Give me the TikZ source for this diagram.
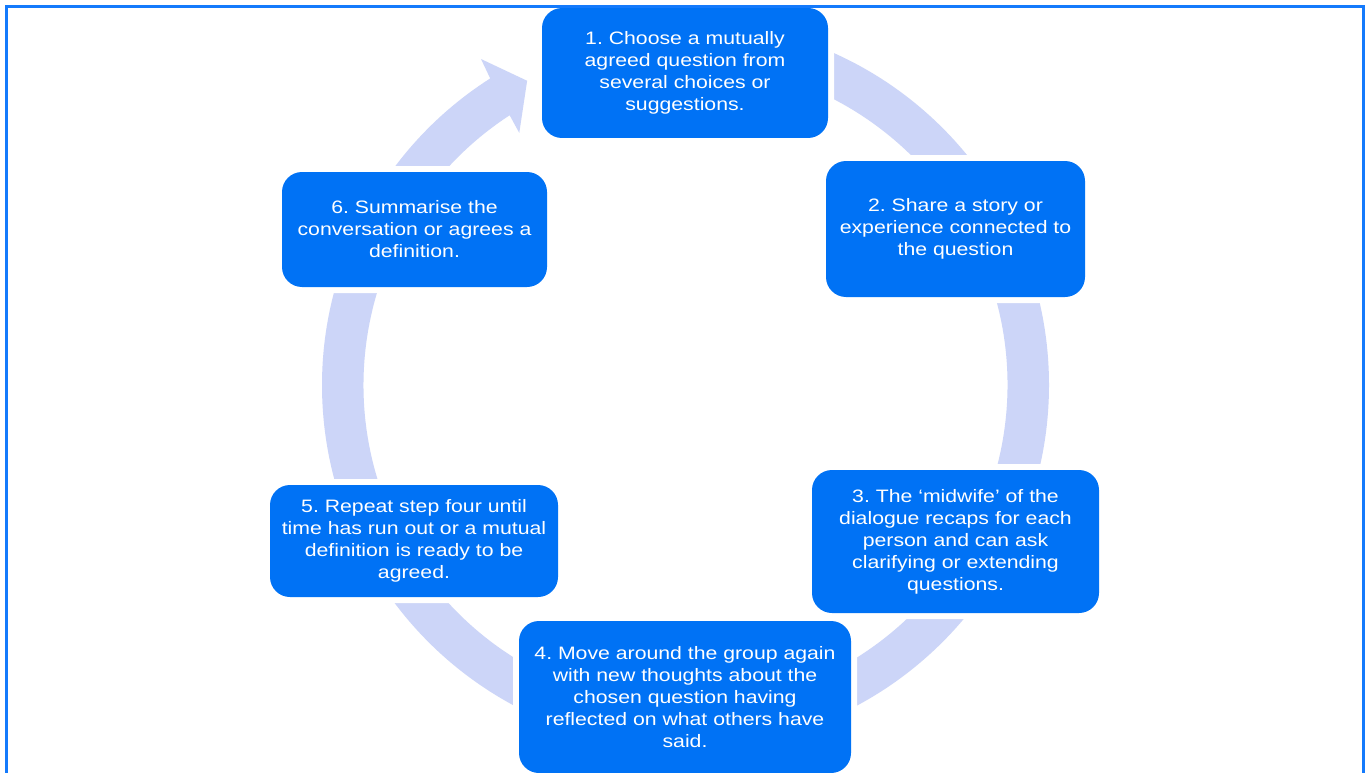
\documentclass[tikz,border=0pt]{standalone}
\usepackage{fontspec}
\setmainfont{Liberation Sans}[FakeStretch=1.18]
\usepackage{tikz}
\frenchspacing

\definecolor{boxblue}{RGB}{0,114,245}
\definecolor{frameblue}{RGB}{20,122,252}
\definecolor{ringlav}{RGB}{204,213,248}

\tikzset{
  stepbox/.style={rounded corners=20pt, fill=boxblue, text=white, align=center,
    font=\fontsize{18}{22}\selectfont, inner sep=0pt,
    preaction={draw=white, line width=12pt}},
  ringarrow/.style={fill=ringlav}
}

\begin{document}
\begin{tikzpicture}[x=1pt, y=1pt]
   \useasboundingbox (0,0) rectangle (1370,-773);
   \clip (0,0) rectangle (1370,-773);
   \fill[white] (0,0) rectangle (1370,-773);

   % ring with one head, clockwise into step 1
   \begin{scope}[shift={(685.5,-385)}]
      \fill[ringarrow] (90:363.5) arc[start angle=90, end angle=-237.5, radius=363.5]
         -- (-237.9:384.8) -- (-242.5:343) -- (-236.6:302) -- (-236.9:322)
         arc[start angle=-236.9, end angle=90, radius=322] -- cycle;
   \end{scope}

   \node[stepbox, minimum width=286pt, minimum height=130pt] (s1) at (685,-73)
      {1. Choose a mutually\\agreed question from\\several choices or\\suggestions.};
   \node[stepbox, minimum width=259pt, minimum height=136pt] (s2) at (955.5,-229)
      {2. Share a story or\\experience connected to\\the question};
   \node[stepbox, minimum width=287pt, minimum height=143pt] (s3) at (955.5,-541.5)
      {3. The ‘midwife’ of the\\dialogue recaps for each\\person and can ask\\clarifying or extending\\questions.};
   \node[stepbox, minimum width=332pt, minimum height=152pt] (s4) at (685,-697)
      {4. Move around the group again\\with new thoughts about the\\chosen question having\\reflected on what others have\\said.};
   \node[stepbox, minimum width=288pt, minimum height=112pt] (s5) at (414,-541)
      {5. Repeat step four until\\time has run out or a mutual\\definition is ready to be\\agreed.};
   \node[stepbox, minimum width=265pt, minimum height=115pt] (s6) at (414.5,-229.5)
      {6. Summarise the\\conversation or agrees a\\definition.};

   \draw[frameblue, line width=3pt] (6.5,-6.5) rectangle (1363.5,-800);
\end{tikzpicture}
\end{document}
